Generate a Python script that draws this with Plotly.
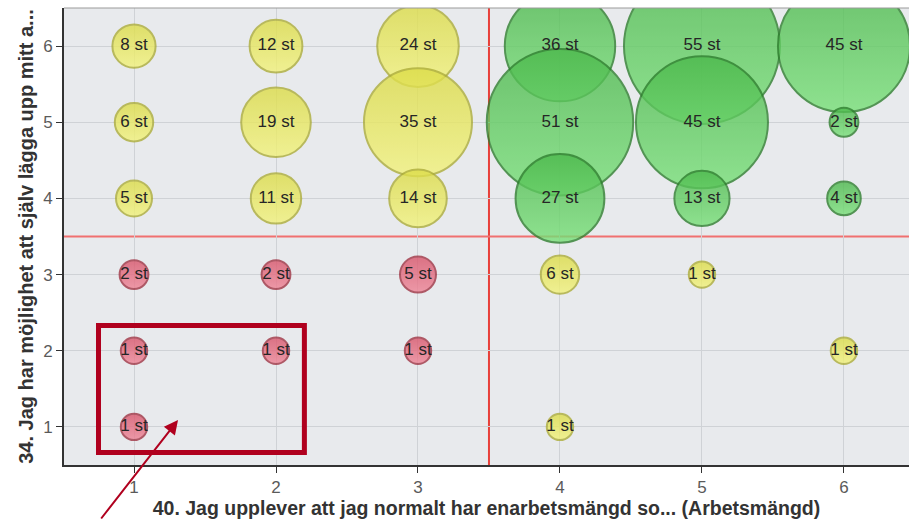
import plotly.graph_objects as go

# ---- data ----
x_vals = [1, 1, 1, 1, 1, 1,
          2, 2, 2, 2, 2,
          3, 3, 3, 3, 3,
          4, 4, 4, 4, 4,
          5, 5, 5, 5,
          6, 6, 6, 6]
y_vals = [6, 5, 4, 3, 2, 1,
          6, 5, 4, 3, 2,
          6, 5, 4, 3, 2,
          6, 5, 4, 3, 1,
          6, 5, 4, 3,
          6, 5, 4, 2]
counts = [8, 6, 5, 2, 1, 1,
          12, 19, 11, 2, 1,
          24, 35, 14, 5, 1,
          36, 51, 27, 6, 1,
          55, 45, 13, 1,
          45, 2, 4, 1]
tick_vals = [1, 2, 3, 4, 5, 6]
x_title = "40. Jag upplever att jag normalt har enarbetsmängd so... (Arbetsmängd)"
y_title = "34. Jag har möjlighet att själv lägga upp mitt a..."
threshold = 3.5

# ---- styling ----
zones = {
    "red": dict(fill="#d8546a", line="#a03545", grad="#ee8496"),
    "yellow": dict(fill="#dcdc48", line="#adad3a", grad="#f2f27c"),
    "green": dict(fill="#4cb84c", line="#2f7f2f", grad="#78e078"),
}


def zone_of(x, y):
    if x > threshold and y > threshold:
        return "green"
    if x < threshold and y < threshold:
        return "red"
    return "yellow"


def size_of(c):
    return 24 + 2.4 * c


fig = go.Figure()

for zname, st in zones.items():
    idx = [i for i in range(len(counts)) if zone_of(x_vals[i], y_vals[i]) == zname]
    fig.add_trace(go.Scatter(
        x=[x_vals[i] for i in idx],
        y=[y_vals[i] for i in idx],
        mode="markers",
        marker=dict(
            size=[size_of(counts[i]) for i in idx],
            sizemode="diameter",
            color=st["fill"],
            opacity=0.8,
            line=dict(color=st["line"], width=2),
            gradient=dict(type="vertical", color=st["grad"]),
        ),
        hoverinfo="skip",
        showlegend=False,
    ))

fig.add_trace(go.Scatter(
    x=x_vals, y=y_vals, mode="text",
    text=[f"{c} st" for c in counts],
    textposition="middle center",
    textfont=dict(family="Liberation Sans, Arial, sans-serif", size=17, color="#262626"),
    hoverinfo="skip", showlegend=False,
))

# threshold lines
fig.add_shape(type="line", xref="x", yref="paper", x0=threshold, x1=threshold, y0=0, y1=1,
              line=dict(color="#e8403a", width=2), layer="below")
fig.add_shape(type="line", xref="paper", yref="y", x0=0, x1=1, y0=threshold, y1=threshold,
              line=dict(color="#f07070", width=2), layer="below")
# top border
fig.add_shape(type="line", xref="paper", yref="paper", x0=0, x1=1, y0=1, y1=1,
              line=dict(color="#9a9a9a", width=1))

# highlight rectangle and arrow
fig.add_shape(type="rect", xref="x", yref="y", x0=0.75, x1=2.2, y0=0.665, y1=2.33,
              line=dict(color="#b0001e", width=5), fillcolor="rgba(0,0,0,0)")
fig.add_annotation(x=1.31, y=1.09, xref="x", yref="y", ax=-78, ay=105,
                   showarrow=True, arrowhead=2, arrowsize=1.4, arrowwidth=2,
                   arrowcolor="#b0001e", text="")

axis_font = dict(family="Liberation Sans, Arial, sans-serif", size=17, color="#5a5a5a")

fig.update_layout(
    width=909, height=520,
    margin=dict(l=64, r=0, t=8, b=55),
    paper_bgcolor="white",
    plot_bgcolor="#e8eaed",
    xaxis=dict(
        range=[0.507, 6.458], tickvals=tick_vals, ticks="outside", ticklen=6,
        tickcolor="#333333", showline=True, linecolor="#333333", linewidth=2,
        gridcolor="#cfd2d6", gridwidth=1, zeroline=False, tickfont=axis_font,
        automargin=False,
        title=dict(text=f"<b>{x_title}</b>",
                   font=dict(family="Liberation Sans, Arial, sans-serif", size=19.5, color="#333333"),
                   standoff=0),
    ),
    yaxis=dict(
        range=[0.5, 6.5], tickvals=tick_vals, ticks="outside", ticklen=6,
        tickcolor="#333333", showline=True, linecolor="#333333", linewidth=2,
        gridcolor="#cfd2d6", gridwidth=1, zeroline=False, tickfont=axis_font,
        automargin=False,
        title=dict(text=f"<b>{y_title}</b>",
                   font=dict(family="Liberation Sans, Arial, sans-serif", size=20, color="#333333"),
                   standoff=4),
    ),
)

fig.write_html("out.html",
               config={"displayModeBar": False},
               post_script="document.body.style.margin='0';document.body.style.overflow='hidden';")
